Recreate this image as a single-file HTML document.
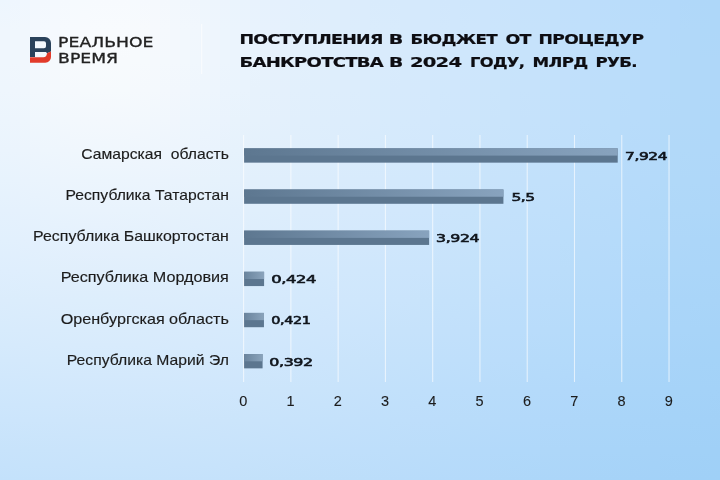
<!DOCTYPE html>
<html lang="ru"><head><meta charset="utf-8"><title>Поступления в бюджет от процедур банкротства</title>
<style>
html,body{margin:0;padding:0;background:#d5e9fb}
#c{position:relative;width:720px;height:480px;overflow:hidden;background:#d5e9fb}
#c i{position:absolute;top:0;width:10px;height:480px;display:block}
#c svg{position:absolute;left:0;top:0}
text{font-family:"Liberation Sans","DejaVu Sans",sans-serif}
.cat{font-size:14.6px;fill:#1c1c1c;stroke:#1c1c1c;stroke-width:0.15px}
.ax{font-size:14.5px;fill:#1c1c1c;stroke:#1c1c1c;stroke-width:0.1px}
.val{font-family:"DejaVu Sans","Liberation Sans",sans-serif;font-size:11.3px;fill:#10151c;letter-spacing:-0.3px;stroke:#10151c;stroke-width:0.6px}
.ttl{font-family:"DejaVu Sans","Liberation Sans",sans-serif;font-weight:bold;font-size:13.7px;fill:#0d0d12;letter-spacing:-0.55px;stroke:#0d0d12;stroke-width:0.2px}
.lg{font-family:"DejaVu Sans","Liberation Sans",sans-serif;font-size:13.3px;fill:#222;stroke:#222;stroke-width:0.3}
</style></head><body>
<div id="c">
<i style="left:0px;background:linear-gradient(to bottom,#edf6fe 0px,#eff6fd 30px,#eff6fd 60px,#eef6fd 90px,#ecf5fd 120px,#eaf4fd 150px,#e7f3fd 180px,#e4f1fd 210px,#e1f0fd 240px,#deeefd 270px,#dbecfc 300px,#d7ebfc 330px,#d3e9fc 360px,#cfe7fc 390px,#cbe5fc 420px,#c7e3fb 450px,#c3e1fb 480px)"></i>
<i style="left:10px;background:linear-gradient(to bottom,#eff6fe 0px,#f0f7fd 30px,#f0f7fd 60px,#eff6fd 90px,#edf5fd 120px,#ebf4fd 150px,#e8f3fd 180px,#e5f1fd 210px,#e2f0fd 240px,#dfeefd 270px,#dbedfc 300px,#d8ebfc 330px,#d4e9fc 360px,#d0e7fc 390px,#cce5fc 420px,#c8e3fb 450px,#c4e2fb 480px)"></i>
<i style="left:20px;background:linear-gradient(to bottom,#f0f7fe 0px,#f1f7fd 30px,#f1f7fd 60px,#f0f7fd 90px,#eef6fd 120px,#ecf5fd 150px,#e9f3fd 180px,#e6f2fd 210px,#e3f0fd 240px,#dfeffd 270px,#dcedfc 300px,#d8ebfc 330px,#d4e9fc 360px,#d0e8fc 390px,#cde6fc 420px,#c8e4fb 450px,#c4e2fb 480px)"></i>
<i style="left:30px;background:linear-gradient(to bottom,#f2f8fe 0px,#f3f8fe 30px,#f3f8fd 60px,#f2f8fd 90px,#f0f7fd 120px,#edf5fd 150px,#eaf4fd 180px,#e6f2fd 210px,#e3f0fd 240px,#e0effd 270px,#dcedfc 300px,#d8ebfc 330px,#d5eafc 360px,#d1e8fc 390px,#cde6fc 420px,#c9e4fb 450px,#c5e2fb 480px)"></i>
<i style="left:40px;background:linear-gradient(to bottom,#f3f8fe 0px,#f4f9fe 30px,#f4f9fd 60px,#f3f8fd 90px,#f0f7fd 120px,#eef6fd 150px,#eaf4fd 180px,#e7f2fd 210px,#e4f1fd 240px,#e0effc 270px,#dcedfc 300px,#d9ebfc 330px,#d5eafc 360px,#d1e8fc 390px,#cde6fc 420px,#c9e4fb 450px,#c5e2fb 480px)"></i>
<i style="left:50px;background:linear-gradient(to bottom,#f4f9fe 0px,#f5f9fe 30px,#f5f9fd 60px,#f4f9fd 90px,#f1f7fd 120px,#eef6fd 150px,#ebf4fd 180px,#e8f3fd 210px,#e4f1fd 240px,#e0effc 270px,#ddedfc 300px,#d9ecfc 330px,#d5eafc 360px,#d2e8fc 390px,#cee6fc 420px,#cae4fb 450px,#c6e2fb 480px)"></i>
<i style="left:60px;background:linear-gradient(to bottom,#f5f9fe 0px,#f6fafe 30px,#f6fafd 60px,#f5f9fd 90px,#f2f8fd 120px,#eff6fd 150px,#ecf5fd 180px,#e8f3fd 210px,#e4f1fd 240px,#e1effc 270px,#ddedfc 300px,#d9ecfc 330px,#d6eafc 360px,#d2e8fc 390px,#cee6fb 420px,#cae4fb 450px,#c6e2fb 480px)"></i>
<i style="left:70px;background:linear-gradient(to bottom,#f6fafe 0px,#f7fafe 30px,#f7fafd 60px,#f5f9fd 90px,#f3f8fd 120px,#f0f7fd 150px,#ecf5fd 180px,#e8f3fd 210px,#e5f1fd 240px,#e1effc 270px,#ddeefc 300px,#daecfc 330px,#d6eafc 360px,#d2e8fc 390px,#cee6fb 420px,#cae4fb 450px,#c6e3fb 480px)"></i>
<i style="left:80px;background:linear-gradient(to bottom,#f6fafe 0px,#f8fafe 30px,#f7fafd 60px,#f6fafd 90px,#f3f8fd 120px,#f0f7fd 150px,#ecf5fd 180px,#e9f3fd 210px,#e5f1fd 240px,#e1effc 270px,#ddeefc 300px,#daecfc 330px,#d6eafc 360px,#d2e8fc 390px,#cee6fb 420px,#cae5fb 450px,#c7e3fb 480px)"></i>
<i style="left:90px;background:linear-gradient(to bottom,#f7fafe 0px,#f8fbfe 30px,#f8fbfd 60px,#f6fafd 90px,#f3f8fd 120px,#f0f7fd 150px,#ecf5fd 180px,#e9f3fd 210px,#e5f1fd 240px,#e1effc 270px,#ddeefc 300px,#daecfc 330px,#d6eafc 360px,#d2e8fc 390px,#cfe6fb 420px,#cbe5fb 450px,#c7e3fb 480px)"></i>
<i style="left:100px;background:linear-gradient(to bottom,#f7fafe 0px,#f8fbfe 30px,#f8fbfd 60px,#f6fafd 90px,#f4f8fd 120px,#f0f7fd 150px,#ecf5fd 180px,#e9f3fd 210px,#e5f1fd 240px,#e1effc 270px,#ddeefc 300px,#daecfc 330px,#d6eafc 360px,#d2e8fc 390px,#cfe6fb 420px,#cbe5fb 450px,#c7e3fb 480px)"></i>
<i style="left:110px;background:linear-gradient(to bottom,#f7fafe 0px,#f8fbfe 30px,#f8fbfd 60px,#f6fafd 90px,#f3f8fd 120px,#f0f7fd 150px,#ecf5fd 180px,#e9f3fd 210px,#e5f1fc 240px,#e1effc 270px,#ddeefc 300px,#daecfc 330px,#d6eafc 360px,#d2e8fc 390px,#cfe6fb 420px,#cbe5fb 450px,#c7e3fb 480px)"></i>
<i style="left:120px;background:linear-gradient(to bottom,#f7fafe 0px,#f8fbfe 30px,#f7fafd 60px,#f6fafd 90px,#f3f8fd 120px,#f0f7fd 150px,#ecf5fd 180px,#e8f3fd 210px,#e5f1fc 240px,#e1effc 270px,#ddeefc 300px,#daecfc 330px,#d6eafc 360px,#d2e8fc 390px,#cfe6fb 420px,#cbe5fb 450px,#c7e3fb 480px)"></i>
<i style="left:130px;background:linear-gradient(to bottom,#f6fafe 0px,#f7fafd 30px,#f7fafd 60px,#f5f9fd 90px,#f3f8fd 120px,#eff6fd 150px,#ecf5fd 180px,#e8f3fd 210px,#e4f1fc 240px,#e1effc 270px,#ddedfc 300px,#daecfc 330px,#d6eafc 360px,#d2e8fc 390px,#cee6fb 420px,#cbe5fb 450px,#c7e3fb 480px)"></i>
<i style="left:140px;background:linear-gradient(to bottom,#f6f9fe 0px,#f7fafd 30px,#f6fafd 60px,#f5f9fd 90px,#f2f8fd 120px,#eff6fd 150px,#ebf4fd 180px,#e8f3fd 210px,#e4f1fc 240px,#e0effc 270px,#ddedfc 300px,#d9ecfc 330px,#d6eafc 360px,#d2e8fc 390px,#cee6fb 420px,#cbe5fb 450px,#c7e3fb 480px)"></i>
<i style="left:150px;background:linear-gradient(to bottom,#f5f9fd 0px,#f6f9fd 30px,#f5f9fd 60px,#f4f9fd 90px,#f1f7fd 120px,#eef6fd 150px,#ebf4fd 180px,#e7f2fd 210px,#e4f1fc 240px,#e0effc 270px,#ddedfc 300px,#d9ebfc 330px,#d6eafc 360px,#d2e8fc 390px,#cee6fb 420px,#cae4fb 450px,#c7e3fb 480px)"></i>
<i style="left:160px;background:linear-gradient(to bottom,#f4f8fd 0px,#f5f9fd 30px,#f4f9fd 60px,#f3f8fd 90px,#f1f7fd 120px,#eef5fd 150px,#eaf4fd 180px,#e7f2fc 210px,#e3f0fc 240px,#e0effc 270px,#dcedfc 300px,#d9ebfc 330px,#d5eafc 360px,#d2e8fc 390px,#cee6fb 420px,#cae4fb 450px,#c7e3fb 480px)"></i>
<i style="left:170px;background:linear-gradient(to bottom,#f2f8fd 0px,#f3f8fd 30px,#f3f8fd 60px,#f2f7fd 90px,#f0f6fd 120px,#edf5fd 150px,#e9f3fd 180px,#e6f2fc 210px,#e3f0fc 240px,#dfeefc 270px,#dcedfc 300px,#d8ebfc 330px,#d5e9fc 360px,#d1e8fc 390px,#cee6fb 420px,#cae4fb 450px,#c6e2fb 480px)"></i>
<i style="left:180px;background:linear-gradient(to bottom,#f1f7fd 0px,#f2f8fd 30px,#f2f8fd 60px,#f1f7fd 90px,#eef6fd 120px,#ecf5fd 150px,#e9f3fd 180px,#e5f1fc 210px,#e2f0fc 240px,#dfeefc 270px,#dbedfc 300px,#d8ebfc 330px,#d5e9fc 360px,#d1e8fc 390px,#cde6fb 420px,#cae4fb 450px,#c6e2fb 480px)"></i>
<i style="left:190px;background:linear-gradient(to bottom,#f0f6fd 0px,#f1f7fd 30px,#f0f7fd 60px,#eff6fd 90px,#edf5fd 120px,#ebf4fd 150px,#e8f3fc 180px,#e5f1fc 210px,#e1effc 240px,#deeefc 270px,#dbecfc 300px,#d8ebfc 330px,#d4e9fc 360px,#d1e7fc 390px,#cde6fb 420px,#c9e4fb 450px,#c6e2fb 480px)"></i>
<i style="left:200px;background:linear-gradient(to bottom,#eef6fd 0px,#eff6fd 30px,#eff6fd 60px,#eef6fd 90px,#ecf5fd 120px,#eaf3fd 150px,#e7f2fc 180px,#e4f1fc 210px,#e1effc 240px,#deeefc 270px,#daecfc 300px,#d7eafc 330px,#d4e9fc 360px,#d0e7fc 390px,#cde5fb 420px,#c9e4fb 450px,#c5e2fb 480px)"></i>
<i style="left:210px;background:linear-gradient(to bottom,#edf5fd 0px,#eef5fd 30px,#eef5fd 60px,#edf5fd 90px,#ebf4fd 120px,#e9f3fd 150px,#e6f2fc 180px,#e3f0fc 210px,#e0effc 240px,#ddedfc 270px,#daecfc 300px,#d7eafc 330px,#d3e9fc 360px,#d0e7fc 390px,#cce5fb 420px,#c9e4fb 450px,#c5e2fb 480px)"></i>
<i style="left:220px;background:linear-gradient(to bottom,#ecf4fd 0px,#ecf5fd 30px,#ecf5fd 60px,#ebf4fd 90px,#eaf3fd 120px,#e7f2fc 150px,#e5f1fc 180px,#e2f0fc 210px,#dfeefc 240px,#dcedfc 270px,#d9ebfc 300px,#d6eafc 330px,#d3e8fc 360px,#cfe7fc 390px,#cce5fb 420px,#c8e3fb 450px,#c5e2fb 480px)"></i>
<i style="left:230px;background:linear-gradient(to bottom,#eaf4fd 0px,#ebf4fd 30px,#ebf4fd 60px,#eaf4fd 90px,#e8f3fc 120px,#e6f2fc 150px,#e4f1fc 180px,#e1effc 210px,#dfeefc 240px,#dcedfc 270px,#d9ebfc 300px,#d5eafc 330px,#d2e8fc 360px,#cfe6fc 390px,#cbe5fb 420px,#c8e3fb 450px,#c4e1fb 480px)"></i>
<i style="left:240px;background:linear-gradient(to bottom,#e9f3fd 0px,#eaf3fd 30px,#e9f3fd 60px,#e9f3fd 90px,#e7f2fc 120px,#e5f1fc 150px,#e3f0fc 180px,#e1effc 210px,#deeefc 240px,#dbecfc 270px,#d8ebfc 300px,#d5e9fc 330px,#d1e8fc 360px,#cee6fb 390px,#cbe5fb 420px,#c7e3fb 450px,#c4e1fa 480px)"></i>
<i style="left:250px;background:linear-gradient(to bottom,#e8f2fd 0px,#e8f3fd 30px,#e8f3fd 60px,#e7f2fc 90px,#e6f2fc 120px,#e4f1fc 150px,#e2f0fc 180px,#e0effc 210px,#ddedfc 240px,#daecfc 270px,#d7ebfc 300px,#d4e9fc 330px,#d1e7fc 360px,#cee6fb 390px,#cae4fb 420px,#c7e3fb 450px,#c3e1fa 480px)"></i>
<i style="left:260px;background:linear-gradient(to bottom,#e6f2fd 0px,#e7f2fd 30px,#e7f2fc 60px,#e6f2fc 90px,#e5f1fc 120px,#e3f0fc 150px,#e1effc 180px,#dfeefc 210px,#dcedfc 240px,#d9ecfc 270px,#d6eafc 300px,#d3e9fc 330px,#d0e7fc 360px,#cde6fb 390px,#cae4fb 420px,#c6e2fb 450px,#c3e1fa 480px)"></i>
<i style="left:270px;background:linear-gradient(to bottom,#e5f1fd 0px,#e6f1fd 30px,#e6f1fc 60px,#e5f1fc 90px,#e4f0fc 120px,#e2f0fc 150px,#e0effc 180px,#deeefc 210px,#dbecfc 240px,#d9ebfc 270px,#d6eafc 300px,#d3e8fc 330px,#d0e7fc 360px,#cce5fb 390px,#c9e4fb 420px,#c6e2fb 450px,#c2e0fa 480px)"></i>
<i style="left:280px;background:linear-gradient(to bottom,#e4f0fd 0px,#e4f1fd 30px,#e4f1fc 60px,#e4f0fc 90px,#e3f0fc 120px,#e1effc 150px,#dfeefc 180px,#ddedfc 210px,#daecfc 240px,#d8ebfc 270px,#d5e9fc 300px,#d2e8fc 330px,#cfe6fc 360px,#cce5fb 390px,#c8e3fb 420px,#c5e2fb 450px,#c2e0fa 480px)"></i>
<i style="left:290px;background:linear-gradient(to bottom,#e3f0fd 0px,#e3f0fc 30px,#e3f0fc 60px,#e2f0fc 90px,#e1effc 120px,#e0effc 150px,#deeefc 180px,#dcedfc 210px,#daecfc 240px,#d7eafc 270px,#d4e9fc 300px,#d1e8fc 330px,#cee6fc 360px,#cbe5fb 390px,#c8e3fb 420px,#c4e1fb 450px,#c1e0fa 480px)"></i>
<i style="left:300px;background:linear-gradient(to bottom,#e1effd 0px,#e2f0fc 30px,#e2f0fc 60px,#e1effc 90px,#e0effc 120px,#dfeefc 150px,#ddedfc 180px,#dbecfc 210px,#d9ebfc 240px,#d6eafc 270px,#d3e9fc 300px,#d0e7fc 330px,#cde6fc 360px,#cae4fb 390px,#c7e3fb 420px,#c4e1fb 450px,#c0e0fa 480px)"></i>
<i style="left:310px;background:linear-gradient(to bottom,#e0effd 0px,#e1effc 30px,#e1effc 60px,#e0effc 90px,#dfeefc 120px,#deeefc 150px,#dcedfc 180px,#daecfc 210px,#d8ebfc 240px,#d5eafc 270px,#d2e8fc 300px,#cfe7fc 330px,#cce5fc 360px,#c9e4fb 390px,#c6e2fb 420px,#c3e1fb 450px,#c0dffa 480px)"></i>
<i style="left:320px;background:linear-gradient(to bottom,#dfeefc 0px,#e0eefc 30px,#e0eefc 60px,#dfeefc 90px,#deeefc 120px,#ddedfc 150px,#dbecfc 180px,#d9ebfc 210px,#d7eafc 240px,#d4e9fc 270px,#d1e8fc 300px,#cfe6fc 330px,#cce5fc 360px,#c9e4fb 390px,#c5e2fb 420px,#c2e0fb 450px,#bfdffa 480px)"></i>
<i style="left:330px;background:linear-gradient(to bottom,#deeefc 0px,#deeefc 30px,#deeefc 60px,#deeefc 90px,#ddedfc 120px,#dcedfc 150px,#daecfc 180px,#d8ebfc 210px,#d6eafc 240px,#d3e9fc 270px,#d1e7fc 300px,#cee6fc 330px,#cbe5fb 360px,#c8e3fb 390px,#c5e2fb 420px,#c1e0fb 450px,#bedffa 480px)"></i>
<i style="left:340px;background:linear-gradient(to bottom,#ddedfc 0px,#ddedfc 30px,#ddedfc 60px,#ddedfc 90px,#dcedfc 120px,#dbecfc 150px,#d9ebfc 180px,#d7eafc 210px,#d5e9fc 240px,#d2e8fc 270px,#d0e7fc 300px,#cde6fc 330px,#cae4fb 360px,#c7e3fb 390px,#c4e1fb 420px,#c1e0fb 450px,#bedefa 480px)"></i>
<i style="left:350px;background:linear-gradient(to bottom,#dcecfc 0px,#dcedfc 30px,#dcedfc 60px,#dcedfc 90px,#dbecfc 120px,#daecfc 150px,#d8ebfc 180px,#d6eafc 210px,#d4e9fc 240px,#d1e8fc 270px,#cfe7fc 300px,#cce5fc 330px,#c9e4fb 360px,#c6e2fb 390px,#c3e1fb 420px,#c0dffb 450px,#bddefa 480px)"></i>
<i style="left:360px;background:linear-gradient(to bottom,#dbecfc 0px,#dbecfc 30px,#dbecfc 60px,#dbecfc 90px,#daecfc 120px,#d8ebfc 150px,#d7eafc 180px,#d5e9fc 210px,#d3e8fc 240px,#d0e7fc 270px,#cee6fc 300px,#cbe5fc 330px,#c8e3fb 360px,#c5e2fb 390px,#c2e0fb 420px,#bfdffb 450px,#bcdefa 480px)"></i>
<i style="left:370px;background:linear-gradient(to bottom,#d9ebfc 0px,#daecfc 30px,#daecfc 60px,#d9ecfc 90px,#d9ebfc 120px,#d7ebfc 150px,#d6eafc 180px,#d4e9fc 210px,#d2e8fc 240px,#cfe7fc 270px,#cde6fc 300px,#cae4fc 330px,#c7e3fb 360px,#c4e1fb 390px,#c1e0fb 420px,#bedffb 450px,#bbddfa 480px)"></i>
<i style="left:380px;background:linear-gradient(to bottom,#d8ebfc 0px,#d9ebfc 30px,#d9ebfc 60px,#d8ebfc 90px,#d7ebfc 120px,#d6eafc 150px,#d5e9fc 180px,#d3e8fc 210px,#d1e7fc 240px,#cee6fc 270px,#cce5fc 300px,#c9e4fb 330px,#c6e2fb 360px,#c3e1fb 390px,#c0e0fb 420px,#bddefb 450px,#bbddfa 480px)"></i>
<i style="left:390px;background:linear-gradient(to bottom,#d7eafc 0px,#d8ebfc 30px,#d8ebfc 60px,#d7eafc 90px,#d6eafc 120px,#d5eafc 150px,#d3e9fc 180px,#d2e8fc 210px,#d0e7fc 240px,#cde6fc 270px,#cbe5fc 300px,#c8e3fb 330px,#c5e2fb 360px,#c2e1fb 390px,#bfdffb 420px,#bddefa 450px,#badcfa 480px)"></i>
<i style="left:400px;background:linear-gradient(to bottom,#d6eafc 0px,#d6eafc 30px,#d6eafc 60px,#d6eafc 90px,#d5eafc 120px,#d4e9fc 150px,#d2e8fc 180px,#d1e7fc 210px,#cee6fc 240px,#cce5fc 270px,#cae4fc 300px,#c7e3fb 330px,#c4e2fb 360px,#c1e0fb 390px,#bfdffb 420px,#bcddfa 450px,#b9dcfa 480px)"></i>
<i style="left:410px;background:linear-gradient(to bottom,#d5e9fc 0px,#d5e9fc 30px,#d5eafc 60px,#d5e9fc 90px,#d4e9fc 120px,#d3e8fc 150px,#d1e8fc 180px,#cfe7fc 210px,#cde6fc 240px,#cbe5fc 270px,#c9e4fb 300px,#c6e2fb 330px,#c3e1fb 360px,#c0e0fb 390px,#bedefb 420px,#bbddfa 450px,#b8dcfa 480px)"></i>
<i style="left:420px;background:linear-gradient(to bottom,#d4e9fc 0px,#d4e9fc 30px,#d4e9fc 60px,#d4e9fc 90px,#d3e8fc 120px,#d2e8fc 150px,#d0e7fc 180px,#cee6fc 210px,#cce5fc 240px,#cae4fc 270px,#c7e3fb 300px,#c5e2fb 330px,#c2e1fb 360px,#bfdffb 390px,#bddefb 420px,#baddfa 450px,#b7dbfa 480px)"></i>
<i style="left:430px;background:linear-gradient(to bottom,#d2e8fc 0px,#d3e8fc 30px,#d3e8fc 60px,#d2e8fc 90px,#d2e8fc 120px,#d0e7fc 150px,#cfe7fc 180px,#cde6fc 210px,#cbe5fc 240px,#c9e4fb 270px,#c6e3fb 300px,#c4e1fb 330px,#c1e0fb 360px,#bedffb 390px,#bcddfb 420px,#b9dcfa 450px,#b6dbfa 480px)"></i>
<i style="left:440px;background:linear-gradient(to bottom,#d1e7fc 0px,#d2e8fc 30px,#d2e8fc 60px,#d1e8fc 90px,#d0e7fc 120px,#cfe7fc 150px,#cee6fc 180px,#cce5fc 210px,#cae4fb 240px,#c8e3fb 270px,#c5e2fb 300px,#c3e1fb 330px,#c0e0fb 360px,#bddefb 390px,#bbddfb 420px,#b8dcfa 450px,#b5dafa 480px)"></i>
<i style="left:450px;background:linear-gradient(to bottom,#d0e7fc 0px,#d0e7fc 30px,#d0e7fc 60px,#d0e7fc 90px,#cfe7fc 120px,#cee6fc 150px,#cce6fb 180px,#cbe5fb 210px,#c9e4fb 240px,#c7e3fb 270px,#c4e2fb 300px,#c2e0fb 330px,#bfdffb 360px,#bcdefb 390px,#baddfa 420px,#b7dbfa 450px,#b5dafa 480px)"></i>
<i style="left:460px;background:linear-gradient(to bottom,#cee6fc 0px,#cfe7fc 30px,#cfe7fc 60px,#cfe6fc 90px,#cee6fc 120px,#cde6fb 150px,#cbe5fb 180px,#c9e4fb 210px,#c8e3fb 240px,#c5e2fb 270px,#c3e1fb 300px,#c1e0fb 330px,#bedffb 360px,#bbddfb 390px,#b9dcfa 420px,#b6dbfa 450px,#b4dafa 480px)"></i>
<i style="left:470px;background:linear-gradient(to bottom,#cde6fc 0px,#cee6fc 30px,#cee6fc 60px,#cde6fc 90px,#cde6fb 120px,#cbe5fb 150px,#cae4fb 180px,#c8e4fb 210px,#c6e3fb 240px,#c4e2fb 270px,#c2e1fb 300px,#bfdffb 330px,#bddefb 360px,#baddfb 390px,#b8dcfa 420px,#b5dafa 450px,#b3d9fa 480px)"></i>
<i style="left:480px;background:linear-gradient(to bottom,#cce5fc 0px,#cce5fc 30px,#cce5fc 60px,#cce5fb 90px,#cbe5fb 120px,#cae4fb 150px,#c9e4fb 180px,#c7e3fb 210px,#c5e2fb 240px,#c3e1fb 270px,#c1e0fb 300px,#bedffb 330px,#bcdefb 360px,#b9dcfb 390px,#b7dbfa 420px,#b4dafa 450px,#b2d9fa 480px)"></i>
<i style="left:490px;background:linear-gradient(to bottom,#cbe4fc 0px,#cbe5fc 30px,#cbe5fb 60px,#cbe5fb 90px,#cae4fb 120px,#c9e4fb 150px,#c8e3fb 180px,#c6e2fb 210px,#c4e2fb 240px,#c2e1fb 270px,#c0dffb 300px,#bddefb 330px,#bbddfb 360px,#b8dcfa 390px,#b6dbfa 420px,#b3d9fa 450px,#b1d8f9 480px)"></i>
<i style="left:500px;background:linear-gradient(to bottom,#c9e4fc 0px,#cae4fb 30px,#cae4fb 60px,#c9e4fb 90px,#c9e4fb 120px,#c8e3fb 150px,#c6e3fb 180px,#c5e2fb 210px,#c3e1fb 240px,#c1e0fb 270px,#bedffb 300px,#bcdefb 330px,#baddfb 360px,#b7dbfa 390px,#b5dafa 420px,#b2d9fa 450px,#b0d8f9 480px)"></i>
<i style="left:510px;background:linear-gradient(to bottom,#c8e3fc 0px,#c8e3fb 30px,#c8e4fb 60px,#c8e3fb 90px,#c7e3fb 120px,#c6e3fb 150px,#c5e2fb 180px,#c3e1fb 210px,#c2e0fb 240px,#c0dffb 270px,#bddefb 300px,#bbddfb 330px,#b9dcfb 360px,#b6dbfa 390px,#b4dafa 420px,#b1d9fa 450px,#afd7f9 480px)"></i>
<i style="left:520px;background:linear-gradient(to bottom,#c7e2fb 0px,#c7e3fb 30px,#c7e3fb 60px,#c7e3fb 90px,#c6e2fb 120px,#c5e2fb 150px,#c4e1fb 180px,#c2e1fb 210px,#c0e0fb 240px,#bedffb 270px,#bcdefb 300px,#baddfb 330px,#b8dcfa 360px,#b5dafa 390px,#b3d9fa 420px,#b0d8fa 450px,#aed7f9 480px)"></i>
<i style="left:530px;background:linear-gradient(to bottom,#c5e2fb 0px,#c6e2fb 30px,#c6e2fb 60px,#c6e2fb 90px,#c5e2fb 120px,#c4e1fb 150px,#c2e1fb 180px,#c1e0fb 210px,#bfdffb 240px,#bddefb 270px,#bbddfb 300px,#b9dcfb 330px,#b6dbfa 360px,#b4dafa 390px,#b2d9fa 420px,#b0d8fa 450px,#add7f9 480px)"></i>
<i style="left:540px;background:linear-gradient(to bottom,#c4e1fb 0px,#c4e2fb 30px,#c5e2fb 60px,#c4e2fb 90px,#c4e1fb 120px,#c3e1fb 150px,#c1e0fb 180px,#c0e0fb 210px,#bedffb 240px,#bcdefb 270px,#baddfb 300px,#b8dcfa 330px,#b5dbfa 360px,#b3d9fa 390px,#b1d8fa 420px,#afd7f9 450px,#acd6f9 480px)"></i>
<i style="left:550px;background:linear-gradient(to bottom,#c3e1fb 0px,#c3e1fb 30px,#c3e1fb 60px,#c3e1fb 90px,#c2e1fb 120px,#c1e0fb 150px,#c0e0fb 180px,#bedffb 210px,#bddefb 240px,#bbddfb 270px,#b9dcfa 300px,#b7dbfa 330px,#b4dafa 360px,#b2d9fa 390px,#b0d8fa 420px,#aed7f9 450px,#acd6f9 480px)"></i>
<i style="left:560px;background:linear-gradient(to bottom,#c1e0fb 0px,#c2e0fb 30px,#c2e0fb 60px,#c2e0fb 90px,#c1e0fb 120px,#c0e0fb 150px,#bfdffb 180px,#bddefb 210px,#bbdefb 240px,#baddfa 270px,#b8dcfa 300px,#b5dbfa 330px,#b3dafa 360px,#b1d8fa 390px,#afd7fa 420px,#add6f9 450px,#abd5f9 480px)"></i>
<i style="left:570px;background:linear-gradient(to bottom,#c0dffb 0px,#c0e0fb 30px,#c1e0fb 60px,#c0e0fb 90px,#c0dffb 120px,#bfdffb 150px,#bddefb 180px,#bcdefa 210px,#baddfa 240px,#b8dcfa 270px,#b6dbfa 300px,#b4dafa 330px,#b2d9fa 360px,#b0d8fa 390px,#aed7f9 420px,#acd6f9 450px,#aad5f9 480px)"></i>
<i style="left:580px;background:linear-gradient(to bottom,#bfdffb 0px,#bfdffb 30px,#bfdffb 60px,#bfdffb 90px,#bedffb 120px,#bddefa 150px,#bcdefa 180px,#bbddfa 210px,#b9dcfa 240px,#b7dcfa 270px,#b5dbfa 300px,#b3dafa 330px,#b1d9fa 360px,#afd7fa 390px,#add6f9 420px,#abd5f9 450px,#a9d4f9 480px)"></i>
<i style="left:590px;background:linear-gradient(to bottom,#bddefb 0px,#bedefb 30px,#bedefb 60px,#bedefa 90px,#bddefa 120px,#bcdefa 150px,#bbddfa 180px,#b9ddfa 210px,#b8dcfa 240px,#b6dbfa 270px,#b4dafa 300px,#b2d9fa 330px,#b0d8fa 360px,#aed7f9 390px,#acd6f9 420px,#aad5f9 450px,#a8d4f8 480px)"></i>
<i style="left:600px;background:linear-gradient(to bottom,#bcddfb 0px,#bcdefb 30px,#bddefa 60px,#bcdefa 90px,#bcdefa 120px,#bbddfa 150px,#baddfa 180px,#b8dcfa 210px,#b7dbfa 240px,#b5dafa 270px,#b3dafa 300px,#b1d9fa 330px,#afd8fa 360px,#add7f9 390px,#abd6f9 420px,#a9d5f9 450px,#a7d4f8 480px)"></i>
<i style="left:610px;background:linear-gradient(to bottom,#baddfb 0px,#bbddfa 30px,#bbddfa 60px,#bbddfa 90px,#baddfa 120px,#baddfa 150px,#b8dcfa 180px,#b7dbfa 210px,#b5dbfa 240px,#b4dafa 270px,#b2d9fa 300px,#b0d8fa 330px,#aed7f9 360px,#acd6f9 390px,#aad5f9 420px,#a8d4f9 450px,#a6d3f8 480px)"></i>
<i style="left:620px;background:linear-gradient(to bottom,#b9dcfa 0px,#badcfa 30px,#baddfa 60px,#baddfa 90px,#b9dcfa 120px,#b8dcfa 150px,#b7dbfa 180px,#b6dbfa 210px,#b4dafa 240px,#b3d9fa 270px,#b1d8fa 300px,#afd8fa 330px,#add7f9 360px,#abd6f9 390px,#a9d5f9 420px,#a7d4f8 450px,#a5d3f8 480px)"></i>
<i style="left:630px;background:linear-gradient(to bottom,#b8dbfa 0px,#b8dcfa 30px,#b9dcfa 60px,#b8dcfa 90px,#b8dcfa 120px,#b7dbfa 150px,#b6dbfa 180px,#b5dafa 210px,#b3dafa 240px,#b1d9fa 270px,#b0d8fa 300px,#aed7f9 330px,#acd6f9 360px,#aad5f9 390px,#a8d4f9 420px,#a6d3f8 450px,#a5d2f8 480px)"></i>
<i style="left:640px;background:linear-gradient(to bottom,#b6dbfa 0px,#b7dbfa 30px,#b7dbfa 60px,#b7dbfa 90px,#b7dbfa 120px,#b6dbfa 150px,#b5dafa 180px,#b3dafa 210px,#b2d9fa 240px,#b0d8f9 270px,#afd7f9 300px,#add7f9 330px,#abd6f9 360px,#a9d5f9 390px,#a7d4f9 420px,#a6d3f8 450px,#a4d2f8 480px)"></i>
<i style="left:650px;background:linear-gradient(to bottom,#b5dafa 0px,#b6dbfa 30px,#b6dbfa 60px,#b6dbfa 90px,#b5dbfa 120px,#b5dafa 150px,#b4dafa 180px,#b2d9f9 210px,#b1d9f9 240px,#afd8f9 270px,#aed7f9 300px,#acd6f9 330px,#aad5f9 360px,#a8d4f9 390px,#a6d3f8 420px,#a5d2f8 450px,#a3d2f8 480px)"></i>
<i style="left:660px;background:linear-gradient(to bottom,#b4dafa 0px,#b5dafa 30px,#b5dafa 60px,#b5dafa 90px,#b4daf9 120px,#b3daf9 150px,#b2d9f9 180px,#b1d9f9 210px,#b0d8f9 240px,#aed7f9 270px,#add6f9 300px,#abd6f9 330px,#a9d5f9 360px,#a7d4f9 390px,#a6d3f8 420px,#a4d2f8 450px,#a2d1f7 480px)"></i>
<i style="left:670px;background:linear-gradient(to bottom,#b3d9fa 0px,#b3d9fa 30px,#b3daf9 60px,#b3daf9 90px,#b3d9f9 120px,#b2d9f9 150px,#b1d9f9 180px,#b0d8f9 210px,#afd7f9 240px,#add7f9 270px,#abd6f9 300px,#aad5f9 330px,#a8d4f9 360px,#a6d3f8 390px,#a5d3f8 420px,#a3d2f8 450px,#a2d1f7 480px)"></i>
<i style="left:680px;background:linear-gradient(to bottom,#b1d8fa 0px,#b2d9f9 30px,#b2d9f9 60px,#b2d9f9 90px,#b2d9f9 120px,#b1d9f9 150px,#b0d8f9 180px,#afd8f9 210px,#aed7f9 240px,#acd6f9 270px,#aad5f9 300px,#a9d5f9 330px,#a7d4f8 360px,#a5d3f8 390px,#a4d2f8 420px,#a2d1f8 450px,#a1d1f7 480px)"></i>
<i style="left:690px;background:linear-gradient(to bottom,#b0d8f9 0px,#b1d8f9 30px,#b1d8f9 60px,#b1d8f9 90px,#b1d8f9 120px,#b0d8f9 150px,#afd8f9 180px,#aed7f9 210px,#acd6f9 240px,#abd6f9 270px,#a9d5f9 300px,#a8d4f8 330px,#a6d3f8 360px,#a5d3f8 390px,#a3d2f8 420px,#a2d1f7 450px,#a0d0f7 480px)"></i>
<i style="left:700px;background:linear-gradient(to bottom,#afd7f9 0px,#afd8f9 30px,#b0d8f9 60px,#b0d8f9 90px,#afd8f9 120px,#afd7f9 150px,#aed7f9 180px,#add7f9 210px,#abd6f9 240px,#aad5f9 270px,#a9d5f8 300px,#a7d4f8 330px,#a5d3f8 360px,#a4d2f8 390px,#a2d1f8 420px,#a1d1f7 450px,#a0d0f7 480px)"></i>
<i style="left:710px;background:linear-gradient(to bottom,#aed7f9 0px,#aed7f9 30px,#afd7f9 60px,#afd7f9 90px,#aed7f9 120px,#aed7f9 150px,#add6f9 180px,#acd6f8 210px,#aad5f8 240px,#a9d5f8 270px,#a8d4f8 300px,#a6d3f8 330px,#a4d3f8 360px,#a3d2f8 390px,#a2d1f7 420px,#a0d0f7 450px,#9fd0f7 480px)"></i>
<svg width="720" height="480" viewBox="0 0 720 480">
<rect x="243.05" y="135" width="1.1" height="247" fill="#fff" fill-opacity="0.62"/>
<rect x="290.32" y="135" width="1.1" height="247" fill="#fff" fill-opacity="0.62"/>
<rect x="337.59" y="135" width="1.1" height="247" fill="#fff" fill-opacity="0.62"/>
<rect x="384.86" y="135" width="1.1" height="247" fill="#fff" fill-opacity="0.62"/>
<rect x="432.13" y="135" width="1.1" height="247" fill="#fff" fill-opacity="0.62"/>
<rect x="479.40" y="135" width="1.1" height="247" fill="#fff" fill-opacity="0.62"/>
<rect x="526.67" y="135" width="1.1" height="247" fill="#fff" fill-opacity="0.62"/>
<rect x="573.94" y="135" width="1.1" height="247" fill="#fff" fill-opacity="0.62"/>
<rect x="621.21" y="135" width="1.1" height="247" fill="#fff" fill-opacity="0.62"/>
<rect x="668.48" y="135" width="1.1" height="247" fill="#fff" fill-opacity="0.62"/>
<defs><linearGradient id="g"><stop offset="0" stop-color="#5d7790"/><stop offset="1" stop-color="#88a3be"/></linearGradient><linearGradient id="g2"><stop offset="0" stop-color="#6a849d"/><stop offset="1" stop-color="#8aa3bb"/></linearGradient></defs>
<rect x="244.10" y="148.35" width="373.62" height="14.30" fill="#5c768f"/>
<rect x="244.10" y="148.35" width="373.62" height="7.25" fill="url(#g)"/>
<text class="cat" xml:space="preserve" x="81.25" y="159.05" textLength="147.65" lengthAdjust="spacingAndGlyphs">Самарская  область</text>
<text class="val" x="625.10" y="159.90" textLength="42.00" lengthAdjust="spacingAndGlyphs">7,924</text>
<rect x="244.10" y="189.49" width="259.32" height="14.30" fill="#5c768f"/>
<rect x="244.10" y="189.49" width="259.32" height="7.25" fill="url(#g)"/>
<text class="cat" xml:space="preserve" x="65.50" y="200.19" textLength="163.40" lengthAdjust="spacingAndGlyphs">Республика Татарстан</text>
<text class="val" x="511.40" y="201.04" textLength="23.40" lengthAdjust="spacingAndGlyphs">5,5</text>
<rect x="244.10" y="230.63" width="185.02" height="14.30" fill="#5c768f"/>
<rect x="244.10" y="230.63" width="185.02" height="7.25" fill="url(#g)"/>
<text class="cat" xml:space="preserve" x="33.10" y="241.33" textLength="195.80" lengthAdjust="spacingAndGlyphs">Республика Башкортостан</text>
<text class="val" x="436.10" y="242.18" textLength="43.05" lengthAdjust="spacingAndGlyphs">3,924</text>
<rect x="244.10" y="271.77" width="19.99" height="14.30" fill="#5c768f"/>
<rect x="244.10" y="271.77" width="19.99" height="7.25" fill="url(#g2)"/>
<text class="cat" xml:space="preserve" x="60.70" y="282.47" textLength="168.20" lengthAdjust="spacingAndGlyphs">Республика Мордовия</text>
<text class="val" x="271.35" y="283.32" textLength="44.55" lengthAdjust="spacingAndGlyphs">0,424</text>
<rect x="244.10" y="312.91" width="19.85" height="14.30" fill="#5c768f"/>
<rect x="244.10" y="312.91" width="19.85" height="7.25" fill="url(#g2)"/>
<text class="cat" xml:space="preserve" x="60.70" y="323.61" textLength="168.20" lengthAdjust="spacingAndGlyphs">Оренбургская область</text>
<text class="val" x="271.35" y="324.46" textLength="39.30" lengthAdjust="spacingAndGlyphs">0,421</text>
<rect x="244.10" y="354.05" width="18.48" height="14.30" fill="#5c768f"/>
<rect x="244.10" y="354.05" width="18.48" height="7.25" fill="url(#g2)"/>
<text class="cat" xml:space="preserve" x="66.80" y="364.75" textLength="162.10" lengthAdjust="spacingAndGlyphs">Республика Марий Эл</text>
<text class="val" x="269.35" y="365.60" textLength="43.30" lengthAdjust="spacingAndGlyphs">0,392</text>
<text class="ax" x="243.30" y="405.7" text-anchor="middle">0</text>
<text class="ax" x="290.57" y="405.7" text-anchor="middle">1</text>
<text class="ax" x="337.84" y="405.7" text-anchor="middle">2</text>
<text class="ax" x="385.11" y="405.7" text-anchor="middle">3</text>
<text class="ax" x="432.38" y="405.7" text-anchor="middle">4</text>
<text class="ax" x="479.65" y="405.7" text-anchor="middle">5</text>
<text class="ax" x="526.92" y="405.7" text-anchor="middle">6</text>
<text class="ax" x="574.19" y="405.7" text-anchor="middle">7</text>
<text class="ax" x="621.46" y="405.7" text-anchor="middle">8</text>
<text class="ax" x="668.73" y="405.7" text-anchor="middle">9</text>
<text class="ttl" y="43.60"><tspan x="239.50" textLength="143.10" lengthAdjust="spacingAndGlyphs">ПОСТУПЛЕНИЯ</tspan> <tspan x="388.75" textLength="13.75" lengthAdjust="spacingAndGlyphs">В</tspan> <tspan x="410.50" textLength="86.50" lengthAdjust="spacingAndGlyphs">БЮДЖЕТ</tspan> <tspan x="505.50" textLength="25.25" lengthAdjust="spacingAndGlyphs">ОТ</tspan> <tspan x="538.60" textLength="104.70" lengthAdjust="spacingAndGlyphs">ПРОЦЕДУР</tspan></text>
<text class="ttl" y="66.80"><tspan x="239.50" textLength="143.60" lengthAdjust="spacingAndGlyphs">БАНКРОТСТВА</tspan> <tspan x="389.00" textLength="13.50" lengthAdjust="spacingAndGlyphs">В</tspan> <tspan x="410.00" textLength="51.25" lengthAdjust="spacingAndGlyphs">2024</tspan> <tspan x="470.00" textLength="54.25" lengthAdjust="spacingAndGlyphs">ГОДУ,</tspan> <tspan x="532.60" textLength="54.90" lengthAdjust="spacingAndGlyphs">МЛРД</tspan> <tspan x="595.50" textLength="41.50" lengthAdjust="spacingAndGlyphs">РУБ.</tspan></text>
<text class="lg" x="58.10" y="47.40" textLength="95.30" lengthAdjust="spacingAndGlyphs">РЕАЛЬНОЕ</text>
<text class="lg" x="58.10" y="62.75" textLength="59.90" lengthAdjust="spacingAndGlyphs">ВРЕМЯ</text>
<rect x="201.2" y="24" width="1" height="50" fill="#fff" fill-opacity="0.7"/>
<path fill="#2a425b" fill-rule="evenodd" d="M30,37H45A6,6 0 0 1 51,43V51.5L47,53.2L46,52H35V56.9H30Z M35,41.3H44A2,2 0 0 1 46,43.3V46.3A2,2 0 0 1 44,48.3H35Z"/>
<path fill="#e23b2b" d="M30,57.2H43.5Q46.6,57.2 47,53.2L51,51.5V57A5.7,5.7 0 0 1 45.3,62.8H30Z"/>
</svg>
</div>
</body></html>
